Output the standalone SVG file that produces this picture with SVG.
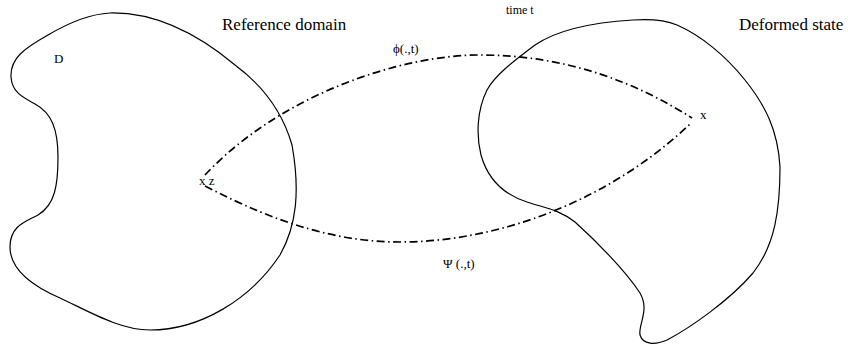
<svg xmlns="http://www.w3.org/2000/svg" width="848" height="346" viewBox="0 0 848 346">
<style>
.shape{fill:none;stroke:#000;stroke-width:1.2}
.map{fill:none;stroke:#000;stroke-width:1.7;stroke-dasharray:8 3.5 1.5 3.5}
text{font-family:"Liberation Serif","Times New Roman",serif;fill:#000}
.big{font-size:17px}
.sm{font-size:13px}
.xs{font-size:12px}
</style>
<rect width="848" height="346" fill="#fff"/>
<g id="reference-domain">
<path class="shape" d="M110,13 C90,14 70,22 48,35 C25,48 10,58 11,77 C12,92 22,97 35,104 C52,113 58,130 58,157 C58,185 55,205 38,215 C25,222 10,226 10,247 C10,268 30,285 60,298 C90,312 120,330 150,330 C200,330 250,300 280,255 C297,225 300,190 292,145 C282,110 262,85 235,65 C205,40 160,12 110,13 Z"/>
<text class="sm" x="54" y="63">D</text>
<text class="big" x="222" y="30">Reference domain</text>
</g>
<g id="deformed-state">
<path class="shape" d="M633,20 C600,22 560,28 535,45 C515,60 495,75 487,90 C477,110 476,135 481,155 C488,180 505,195 527,202 C545,208 560,210 575,222 C595,240 625,270 640,293 C650,310 638,325 640,335 C643,345 655,345 667,340 C690,328 730,300 753,273 C775,245 780,210 780,167 C778,130 765,105 745,80 C725,55 700,35 677,25 C665,20 648,19 633,20 Z"/>
<text class="xs" x="506" y="14">time t</text>
<text class="big" x="739" y="30">Deformed state</text>
</g>
<g id="point-z">
<text class="sm" x="199" y="185">x z</text>
</g>
<g id="point-x">
<text class="sm" x="700" y="119">x</text>
</g>
<g id="connectors">
<path class="map" d="M205,175 C280,95 400,55 480,55 C570,55 640,85 692,118"/>
<path class="map" d="M205,186 C280,225 340,242 400,242 C500,242 610,200 690,124"/>
<text class="sm" x="393" y="53">ϕ(.,t)</text>
<text class="sm" x="443" y="268">Ψ (.,t)</text>
</g>
</svg>
